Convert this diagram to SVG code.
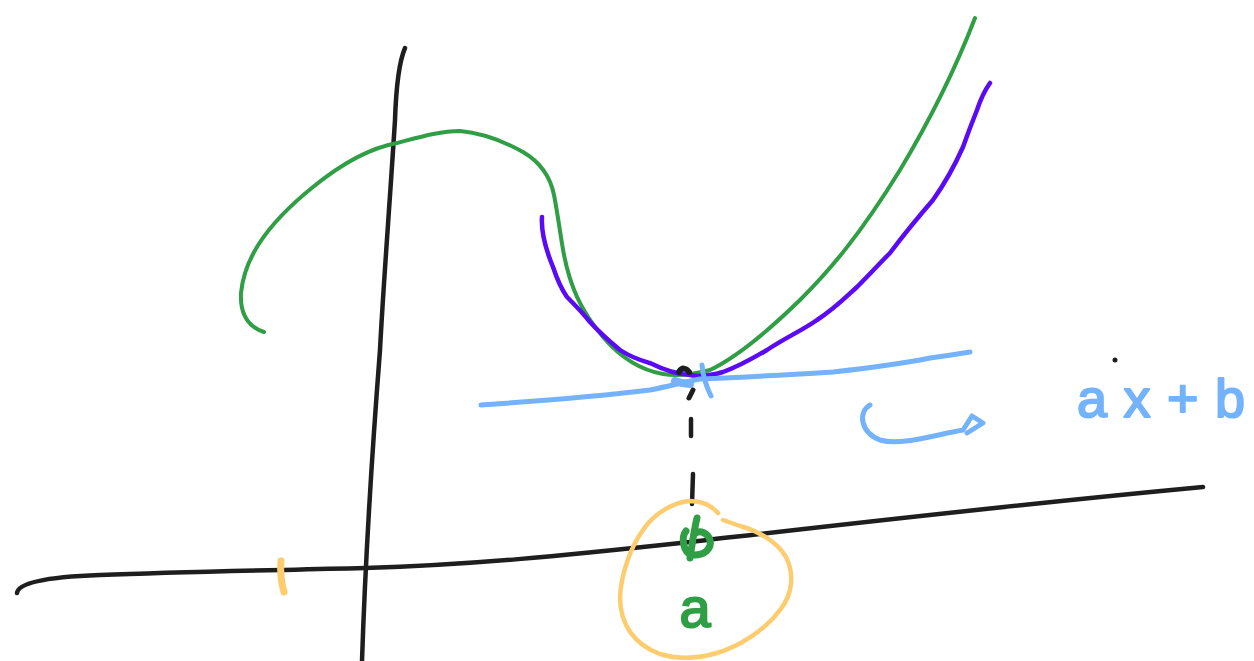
<svg xmlns="http://www.w3.org/2000/svg" width="1254" height="661" viewBox="0 0 1254 661">
<style>
.s{fill:none;stroke-linecap:round;stroke-linejoin:round}
.k{stroke:#1e1e1e;stroke-width:4.5}
.g{stroke:#2f9e44;stroke-width:4}
.p{stroke:#5a0af5;stroke-width:4.5}
.b{stroke:#74b3fb;stroke-width:5}
.o{stroke:#fdcc6e;stroke-width:4.5}
.hand{font-family:"Liberation Sans","DejaVu Sans",sans-serif;stroke-width:2;stroke-linejoin:round}
</style>
<rect width="1254" height="661" fill="#ffffff"/>
<g id="axes">
<path class="s k" d="M405,48 C399,62 396,90 395,120 C390,200 383,290 380,350 C373,440 366,540 362,661"/>
<path class="s k" d="M17,593 C18,584 40,577 100,575 C180,572 240,571 365,568 C470,565 560,556 690,542 C830,526 1000,506 1203,487"/>
</g>
<g id="tick">
<path class="s o" d="M281,561 C280,572 281,582 284,592" style="stroke-width:7"/>
</g>
<g id="green-curve">
<path class="s g" d="M264,332 C246,326 240,312 241,293 C244,262 262,228 313,187 C340,165 370,148 397,143 C420,137 440,131 460,131 C482,133 505,142 523,152 C540,162 550,175 554,195 C558,215 561,240 564,255 C570,285 580,310 603,337 C620,357 640,370 663,374 C680,377 695,374 710,370 C735,358 765,334 800,300 C830,270 860,235 900,170 C930,120 955,70 975,18"/>
</g>
<g id="purple-curve">
<path class="s p" d="M542,217 C541,232 546,250 553,267 C558,282 562,290 567,297 C575,305 582,312 590,322 C600,333 608,340 620,350 C632,358 640,360 650,363 C662,369 675,374 690,375 C700,377 710,376 723,372 C740,366 755,357 767,350 C785,338 803,330 817,320 C833,310 845,298 857,287 C870,274 880,263 890,253 C905,233 920,215 933,200 C945,183 955,165 963,147 C968,133 973,120 977,110 C981,98 985,90 990,83"/>
</g>
<g id="tangent">
<path class="s b" d="M481,405 C540,401 600,396 650,390 C670,386 680,383 700,379 C750,377 800,374 833,372 C870,368 900,364 930,358 C945,356 958,354 970,352"/>
<path class="s b" d="M675,381 C680,383 685,384 690,384" style="stroke-width:8"/>
<path class="s b" d="M702,365 C703,375 706,386 711,396"/>
</g>
<g id="point-a">
<path class="s k" d="M679,372 C682,367 686,368 689,372" style="stroke-width:6"/>
<path class="s k" d="M693,390 L689,398" style="stroke-width:5"/>
<path class="s k" d="M691,419 L691,436"/>
<path class="s k" d="M693,474 L692,504"/>
<path class="s o" d="M718,513 C710,504 700,501 690,501 C675,502 655,512 643,530 C630,548 621,575 620,597 C620,625 635,645 660,654 C680,660 700,658 717,653 C740,646 765,630 780,610 C792,595 795,575 786,557 C776,540 755,530 740,526 L723,520"/>
<path class="s g" d="M697,518 C694,530 692,545 690,558" style="stroke-width:7"/>
<path class="s g" d="M686,531 C681,537 683,553 692,555 C705,556 712,548 710,540 C708,533 700,530 696,533" style="stroke-width:7"/>
<text class="hand" x="695" y="627" font-size="56" fill="#2f9e44" stroke="#2f9e44" text-anchor="middle">a</text>
</g>
<g id="label">
<path class="s b" d="M870,405 C858,412 860,432 880,440 C900,446 930,436 963,430 L972,416 L983,423 L967,433"/>
<circle cx="1115" cy="360" r="2.5" fill="#1e1e1e"/>
<text class="hand" x="1077" y="417" font-size="54" fill="#74b3fb" stroke="#74b3fb" textLength="168" lengthAdjust="spacing">ax+b</text>
</g>
</svg>
